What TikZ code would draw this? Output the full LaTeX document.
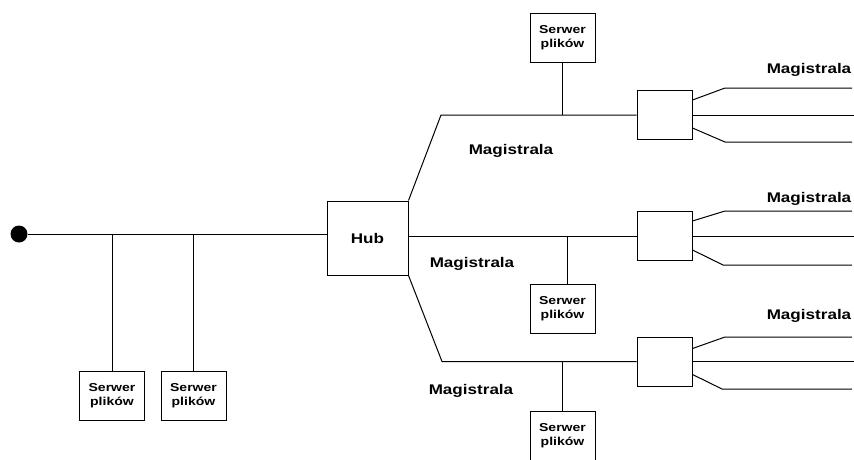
\documentclass[tikz,border=0pt]{standalone}
\usepackage{fontspec}
\usepackage{tikz}
\newfontfamily\netfont[FakeStretch=1.22]{Liberation Sans}

\begin{document}
\begin{tikzpicture}[x=1pt, y=-1pt,
        server/.style={rectangle, draw, line width=1pt, minimum width=65pt, minimum height=49pt, inner sep=0pt, align=center, font=\netfont\bfseries\fontsize{11.5}{14}\selectfont},
        hubbox/.style={rectangle, draw, line width=1pt, minimum width=81pt, minimum height=74pt, inner sep=0pt, font=\netfont\bfseries\fontsize{14}{16}\selectfont},
        switch/.style={rectangle, draw, line width=1pt, minimum width=55pt, minimum height=49pt, inner sep=0pt},
        busname/.style={inner sep=0pt, font=\netfont\bfseries\fontsize{14}{16}\selectfont},
        bus/.style={line width=1pt}
    ]
        \useasboundingbox (0,0) rectangle (854,459);

        \node[circle, fill, inner sep=0pt, minimum size=17pt] (term) at (19,234) {};
        \node[hubbox] (hub) at (367.5,238) {Hub};
        \node[server] (srv-l1) at (112,396) {Serwer\\plików};
        \node[server] (srv-l2) at (193.5,396) {Serwer\\plików};

        \node[server] (srv-top) at (562.5,38) {Serwer\\plików};
        \node[server] (srv-mid) at (562.5,308.5) {Serwer\\plików};
        \node[server] (srv-bot) at (562.5,436) {Serwer\\plików};

        \node[switch] (sw-top) at (664.5,115) {};
        \node[switch] (sw-mid) at (664.5,236) {};
        \node[switch] (sw-bot) at (664.5,361.5) {};

        \node[busname] (lbl-top) at (511,151) {Magistrala};
        \node[busname] (lbl-mid) at (472,264) {Magistrala};
        \node[busname] (lbl-bot) at (471,391) {Magistrala};
        \node[busname] (lbl-top-r) at (809,70) {Magistrala};
        \node[busname] (lbl-mid-r) at (809,199) {Magistrala};
        \node[busname] (lbl-bot-r) at (809,316) {Magistrala};

        \coordinate (bend-top) at (441,115);
        \coordinate (bend-bot) at (442,361.5);
        \coordinate (top-a) at (852,88);
        \coordinate (top-b) at (854,115);
        \coordinate (top-c) at (852,142);
        \coordinate (mid-a) at (852,211);
        \coordinate (mid-b) at (854,236);
        \coordinate (mid-c) at (852,265);
        \coordinate (bot-a) at (852,337);
        \coordinate (bot-b) at (854,361.5);
        \coordinate (bot-c) at (852,389);

        \draw[bus] (term) -- (term -| hub.west);
        \draw[bus] (srv-l1) -- (srv-l1 |- term);
        \draw[bus] (srv-l2) -- (srv-l2 |- term);

        \draw[bus] (hub.north east) -- (bend-top) -- (sw-top.west);
        \draw[bus] (srv-top) -- (srv-top |- bend-top);
        \draw[bus] (hub.east |- sw-mid) -- (sw-mid.west);
        \draw[bus] ([xshift=5pt]srv-mid.north) -- ([xshift=5pt]srv-mid.north |- sw-mid);
        \draw[bus] (hub.south east) -- (bend-bot) -- (sw-bot.west);
        \draw[bus] (srv-bot) -- (srv-bot |- bend-bot);

        \draw[bus] ([yshift=-10pt]sw-top.north east) -- ([xshift=-127pt]top-a) -- (top-a);
        \draw[bus] (sw-top.east) -- (top-b);
        \draw[bus] ([yshift=12pt]sw-top.south east) -- ([xshift=-127pt]top-c) -- (top-c);
        \draw[bus] ([yshift=-10pt]sw-mid.north east) -- ([xshift=-127pt]mid-a) -- (mid-a);
        \draw[bus] (sw-mid.east) -- (mid-b);
        \draw[bus] ([yshift=11pt]sw-mid.south east) -- ([xshift=-129pt]mid-c) -- (mid-c);
        \draw[bus] ([yshift=-12pt]sw-bot.north east) -- ([xshift=-127pt]bot-a) -- (bot-a);
        \draw[bus] (sw-bot.east) -- (bot-b);
        \draw[bus] ([yshift=12pt]sw-bot.south east) -- ([xshift=-130pt]bot-c) -- (bot-c);
    \end{tikzpicture}
\end{document}
